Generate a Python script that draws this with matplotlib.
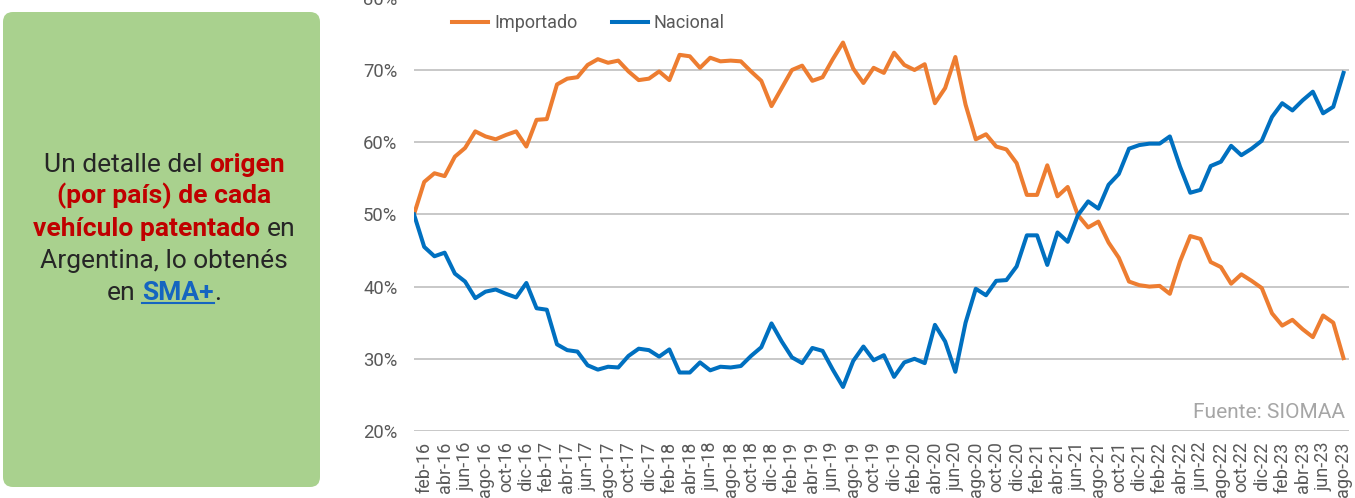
import matplotlib
matplotlib.use('Agg')
import matplotlib.pyplot as plt
from matplotlib.patches import FancyBboxPatch
from matplotlib.lines import Line2D
import numpy as np

plt.rcParams['font.family'] = ['Roboto', 'DejaVu Sans']

# ---------------- data ----------------
month_names = ['ene', 'feb', 'mar', 'abr', 'may', 'jun', 'jul', 'ago', 'sep', 'oct', 'nov', 'dic']
years = ['16', '17', '18', '19', '20', '21', '22', '23']
months = [f'{m}-{y}' for y in years for m in month_names][:92]   # ene-16 ... ago-23

importado = [50.0, 54.5, 55.7, 55.3, 58.0, 59.2, 61.5, 60.8, 60.4, 61.0,
             61.5, 59.4, 63.1, 63.2, 68.0, 68.8, 69.0, 70.7, 71.5, 71.0,
             71.3, 69.8, 68.6, 68.8, 69.8, 68.6, 72.1, 71.9, 70.3, 71.7,
             71.2, 71.3, 71.2, 69.8, 68.5, 65.0, 67.5, 70.0, 70.6, 68.5,
             69.0, 71.5, 73.8, 70.2, 68.2, 70.3, 69.6, 72.4, 70.7, 70.0,
             70.8, 65.4, 67.5, 71.8, 65.2, 60.4, 61.1, 59.4, 59.0, 57.1,
             52.7, 52.7, 56.8, 52.5, 53.8, 49.9, 48.2, 49.0, 46.1, 44.0,
             40.7, 40.2, 40.0, 40.1, 39.0, 43.5, 47.0, 46.6, 43.4, 42.7,
             40.4, 41.7, 40.8, 39.8, 36.3, 34.6, 35.4, 34.1, 33.0, 36.0,
             35.0, 30.1]

nacional = [50.0, 45.5, 44.2, 44.7, 41.8, 40.7, 38.4, 39.3, 39.6, 39.0,
            38.5, 40.5, 37.0, 36.8, 32.0, 31.2, 31.0, 29.1, 28.5, 28.9,
            28.8, 30.4, 31.4, 31.2, 30.3, 31.3, 28.1, 28.1, 29.5, 28.4,
            28.9, 28.8, 29.0, 30.4, 31.6, 34.9, 32.4, 30.2, 29.4, 31.5,
            31.1, 28.5, 26.1, 29.7, 31.7, 29.8, 30.5, 27.5, 29.5, 30.0,
            29.4, 34.7, 32.4, 28.2, 35.0, 39.7, 38.8, 40.8, 40.9, 42.8,
            47.1, 47.1, 43.0, 47.5, 46.2, 49.9, 51.8, 50.8, 54.1, 55.6,
            59.1, 59.6, 59.8, 59.8, 60.8, 56.6, 53.0, 53.4, 56.7, 57.3,
            59.5, 58.2, 59.1, 60.2, 63.5, 65.4, 64.4, 65.8, 67.0, 64.0,
            64.9, 69.6]

series_names = ['Importado', 'Nacional']
y_ticks = [20, 30, 40, 50, 60, 70, 80]
tick_labels = months[1::2]      # feb-16, abr-16, ... ago-23

# ---------------- figure ----------------
W, H = 1355, 498
fig = plt.figure(figsize=(W / 100, H / 100), dpi=100)

C_IMP = '#ED7D31'
C_NAC = '#0070C0'
GRAY = '#595959'

ax = fig.add_axes([414 / W, 67 / H, 934.6 / W, 433.2 / H])
x = np.arange(len(months))
ax.plot(x, importado, color=C_IMP, lw=2.9, solid_joinstyle='round', zorder=3)
ax.plot(x, nacional, color=C_NAC, lw=2.9, solid_joinstyle='round', zorder=4)

ax.set_xlim(0, 91.5)
ax.set_ylim(20, 80)
ax.set_yticks(y_ticks)
ax.set_yticklabels([f'{v}%' for v in y_ticks], fontsize=13.3, color=GRAY)
ax.set_xticks(x[1::2])
ax.set_xticklabels(tick_labels, rotation=90, fontsize=13, color=GRAY)
ax.tick_params(axis='both', length=0)
ax.tick_params(axis='y', pad=12)
ax.tick_params(axis='x', pad=7.5)
ax.yaxis.grid(True, color='#c8c8c8', lw=1.4)
ax.set_axisbelow(True)
for s in ax.spines.values():
    s.set_visible(False)

handles = [Line2D([], [], color=C_IMP, lw=2.9), Line2D([], [], color=C_NAC, lw=2.9)]
fig.legend(handles, series_names, loc='center left', bbox_to_anchor=(452 / W, 1 - 23 / H),
           ncol=2, frameon=False, fontsize=13, labelcolor=GRAY, handlelength=2.0,
           handletextpad=0.33, columnspacing=1.9, borderpad=0, borderaxespad=0)

fig.text(1345 / W, 1 - 412 / H, 'Fuente: SIOMAA', ha='right', va='center',
         fontsize=15, color='#A6A6A6')

# ---------------- left panel ----------------
ov = fig.add_axes([0, 0, 1, 1])
ov.set_xlim(0, W)
ov.set_ylim(H, 0)
ov.axis('off')
ov.patch.set_visible(False)
ov.add_patch(FancyBboxPatch((3, 12), 317, 475, boxstyle='round,pad=0,rounding_size=10',
                            fc='#A9D18E', ec='none'))

DARK = '#262626'
RED = '#C00000'
BLUE = '#1565C0'
FS = 19
lines = [
    [('Un detalle del', DARK, 'normal', False), (' ', DARK, 'normal', False), ('origen', RED, 'bold', False)],
    [('(por país) de cada', RED, 'bold', False)],
    [('vehículo patentado', RED, 'bold', False), (' ', DARK, 'normal', False), ('en', DARK, 'normal', False)],
    [('Argentina, lo obtenés', DARK, 'normal', False)],
    [('en', DARK, 'normal', False), (' ', DARK, 'normal', False), ('SMA+', BLUE, 'bold', True), ('.', DARK, 'normal', False)],
]
baselines = [171.5, 203.5, 235.5, 267.5, 299.5]
cx = 164

renderer = fig.canvas.get_renderer()

def text_width(s, weight):
    if s == ' ':
        a = ov.text(0, 0, 'x x', fontsize=FS, fontweight=weight)
        b = ov.text(0, 0, 'xx', fontsize=FS, fontweight=weight)
        w = a.get_window_extent(renderer).width - b.get_window_extent(renderer).width
        a.remove(); b.remove()
        return w
    t = ov.text(0, 0, s, fontsize=FS, fontweight=weight)
    w = t.get_window_extent(renderer).width
    t.remove()
    return w

for segs, yb in zip(lines, baselines):
    widths = [text_width(s, w) for s, c, w, u in segs]
    total = sum(widths)
    xpos = cx - total / 2
    for (s, c, w, u), wd in zip(segs, widths):
        if s != ' ':
            ov.text(xpos, yb, s, fontsize=FS, fontweight=w, color=c, ha='left', va='baseline')
            if u:
                ov.plot([xpos, xpos + wd], [yb + 3.5, yb + 3.5], color=c, lw=1.5)
        xpos += wd

fig.savefig('out.png', dpi=100)
